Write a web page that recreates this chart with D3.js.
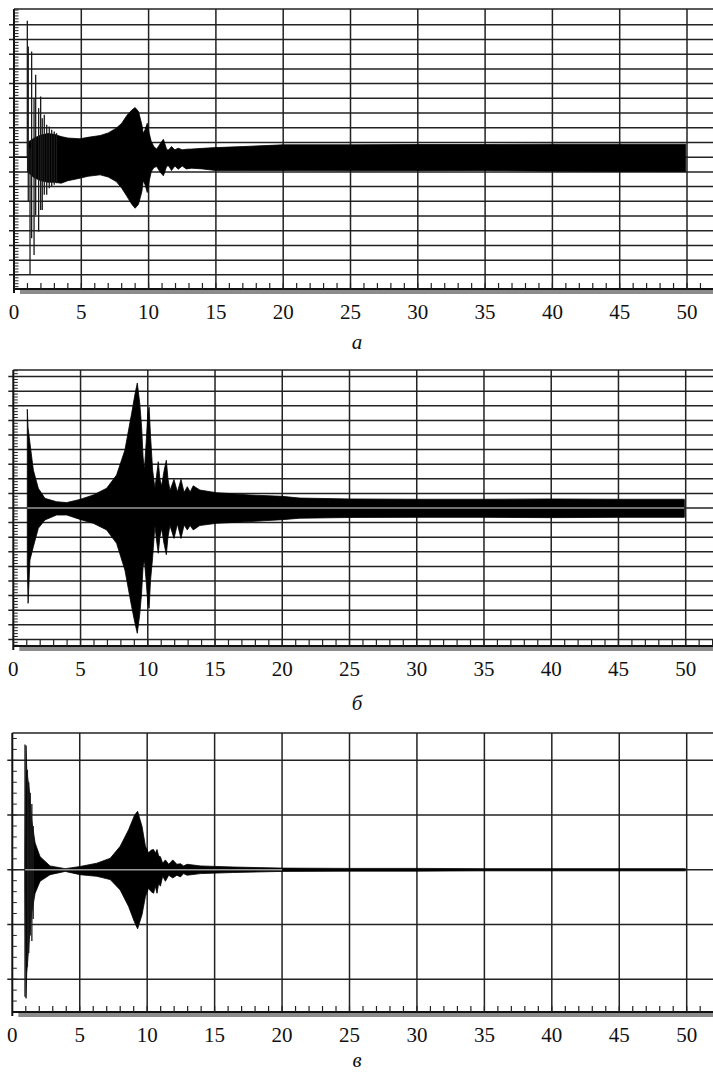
<!DOCTYPE html>
<html>
<head>
<meta charset="utf-8">
<script src="https://cdn.jsdelivr.net/npm/d3@7"></script>
<style>
  body { margin: 0; background: #fff; }
  svg { display: block; }
  text { font-family: "Liberation Serif", Tinos, "Times New Roman", Times, serif; fill: #111; }
</style>
</head>
<body>
<svg id="chart"></svg>
<script>
// time axis labels
var xLabels = [0, 5, 10, 15, 20, 25, 30, 35, 40, 45, 50];

// panel a : envelope of the signal
var aT  = [1.0, 1.5, 2.0, 2.5, 3.0, 3.5, 4.0, 4.9, 5.5, 6.4, 7.0, 7.6, 8.0, 8.4, 8.75, 9.0, 9.25, 9.5, 9.6, 9.75, 9.9, 10.05, 10.2, 10.4, 10.6, 10.85, 11.1, 11.35, 11.5, 11.7, 11.95, 12.2, 12.5, 12.8, 13.2, 14.0, 15.0, 17.0, 20.0, 25.0, 30.0, 35.0, 40.0, 45.0, 49.9];
var aHi = [1.0, 1.3, 1.5, 1.6, 1.55, 1.4, 1.3, 1.25, 1.35, 1.47, 1.65, 1.97, 2.3, 2.85, 3.2, 3.37, 3.1, 2.2, 1.6, 1.9, 2.3, 1.6, 1.06, 0.7, 0.55, 0.9, 1.22, 0.5, 0.5, 0.72, 0.5, 0.61, 0.5, 0.54, 0.55, 0.6, 0.65, 0.72, 0.84, 0.84, 0.86, 0.86, 0.88, 0.88, 0.88];
var aLo = [-1.0, -1.4, -1.6, -1.7, -1.7, -1.77, -1.6, -1.43, -1.3, -1.2, -1.35, -1.66, -2.1, -2.68, -3.2, -3.47, -3.2, -2.34, -1.6, -1.9, -2.4, -1.6, -0.98, -0.7, -0.64, -1.0, -1.27, -0.6, -0.6, -0.91, -0.6, -0.82, -0.6, -0.8, -0.75, -0.8, -0.91, -0.91, -0.91, -0.93, -0.92, -0.9, -0.95, -0.97, -0.98];
// panel a : first thin swings
var aSpikeT  = [0.99, 1.06, 1.19, 1.31, 1.49, 1.61, 1.83, 1.98, 2.1, 2.25, 2.43, 2.62, 2.8, 2.99, 3.16];
var aSpikeHi = [9.27, 7.52, 0.6, 7.18, 4.0, 5.6, 3.33, 4.12, 2.65, 2.88, 2.2, 2.08, 1.86, 1.74, 1.63];
var aSpikeLo = [0, -3.02, -7.96, -5.51, -6.65, -3.93, -5.06, -3.59, -3.59, -2.56, -2.56, -2.11, -2.0, -1.88, -1.77];

// panel b
var bT  = [1.04, 1.1, 1.24, 1.49, 1.86, 2.35, 3.22, 3.97, 4.96, 5.95, 6.94, 7.68, 8.3, 8.8, 9.05, 9.22, 9.4, 9.54, 9.65, 9.75, 9.88, 10.0, 10.1, 10.2, 10.36, 10.53, 10.65, 10.78, 10.9, 11.03, 11.2, 11.38, 11.5, 11.65, 11.95, 12.2, 12.47, 12.7, 12.94, 13.15, 13.38, 13.87, 15.1, 17.6, 20.0, 21.3, 25, 30, 35, 40, 45, 49.9];
var bHi = [6.76, 5.5, 4.43, 2.6, 1.35, 0.66, 0.43, 0.37, 0.59, 0.89, 1.35, 2.26, 3.97, 6.48, 7.8, 8.56, 7.2, 5.57, 3.5, 2.6, 4.5, 6.4, 6.9, 5.0, 2.6, 1.35, 2.2, 3.17, 2.0, 1.5, 2.5, 3.27, 2.0, 1.2, 1.95, 1.1, 1.96, 1.07, 1.46, 1.1, 1.52, 1.23, 1.05, 0.89, 0.8, 0.68, 0.62, 0.6, 0.6, 0.62, 0.6, 0.6];
var bLo = [-4.0, -6.53, -3.56, -2.65, -1.39, -0.82, -0.48, -0.48, -0.78, -1.05, -1.5, -2.42, -4.25, -6.76, -7.9, -8.58, -7.3, -5.84, -4.0, -3.6, -5.0, -6.5, -6.87, -5.0, -3.4, -1.2, -2.2, -3.1, -2.0, -1.4, -2.4, -3.2, -2.0, -1.2, -2.08, -1.1, -2.08, -1.16, -1.5, -1.2, -1.5, -1.2, -1.05, -0.93, -0.8, -0.7, -0.65, -0.64, -0.64, -0.66, -0.64, -0.64];

// panel c
var cT  = [0.94, 1.02, 1.07, 1.26, 1.44, 1.69, 2.06, 2.8, 3.92, 5.03, 6.27, 7.26, 8.0, 8.62, 9.05, 9.29, 9.62, 9.87, 10.1, 10.3, 10.48, 10.6, 10.73, 10.85, 10.98, 11.15, 11.35, 11.6, 11.9, 12.2, 12.47, 12.7, 12.96, 13.95, 16.4, 20, 25, 30, 35, 40, 45, 49.9];
var cHi = [0.3, 2.27, 1.83, 1.46, 0.91, 0.49, 0.24, 0.07, 0.02, 0.06, 0.12, 0.21, 0.43, 0.73, 0.99, 1.07, 0.79, 0.43, 0.31, 0.36, 0.37, 0.3, 0.37, 0.25, 0.24, 0.12, 0.18, 0.1, 0.18, 0.1, 0.11, 0.07, 0.1, 0.07, 0.05, 0.03, 0.025, 0.025, 0.02, 0.02, 0.02, 0.02];
var cLo = [-0.3, -2.35, -1.89, -1.28, -0.79, -0.43, -0.21, -0.09, -0.03, -0.09, -0.12, -0.18, -0.37, -0.67, -0.95, -1.08, -0.82, -0.49, -0.34, -0.4, -0.43, -0.3, -0.43, -0.25, -0.3, -0.12, -0.21, -0.1, -0.15, -0.1, -0.13, -0.07, -0.1, -0.07, -0.05, -0.03, -0.025, -0.025, -0.02, -0.02, -0.02, -0.02];
var cSpikeT  = [0.94, 1.12, 1.22, 1.33, 1.45, 1.55];
var cSpikeHi = [2.29, 1.83, 1.6, 1.41, 1.2, 0.8];
var cSpikeLo = [-2.32, -1.77, -1.52, -1.2, -1.3, -0.9];

var W = 713, H = 1072;
var svg = d3.select('#chart').attr('width', W).attr('height', H);

var panels = [
  { t: aT, hi: aHi, lo: aLo, st: aSpikeT, sh: aSpikeHi, sl: aSpikeLo,
    top: 9, axisY: 289, x0: 14, x50: 687, yMin: -8.96, yMax: 10.07,
    grid: d3.range(-8, 10), caption: 'а', capY: 349, centerTo: 0, lead: true },
  { t: bT, hi: bHi, lo: bLo, st: [], sh: [], sl: [],
    top: 370, axisY: 646, x0: 13.3, x50: 685.7, yMin: -9.45, yMax: 9.45,
    grid: d3.range(-9, 10), caption: 'б', capY: 710, centerTo: 49.9, lead: false },
  { t: cT, hi: cHi, lo: cLo, st: cSpikeT, sh: cSpikeHi, sl: cSpikeLo,
    top: 733, axisY: 1012, x0: 12.3, x50: 686.7, yMin: -2.6, yMax: 2.5,
    grid: [-2, -1, 0, 1, 2], caption: 'в', capY: 1067, centerTo: 20, lead: false }
];

panels.forEach(function(p) {
  var x = d3.scaleLinear().domain([0, 50]).range([p.x0, p.x50]);
  var y = d3.scaleLinear().domain([p.yMin, p.yMax]).range([p.axisY, p.top]);
  var g = svg.append('g');
  var xEnd = W;

  // horizontal grid
  g.selectAll('line.hg').data(p.grid).enter().append('line')
    .attr('x1', p.x0 - 5).attr('x2', xEnd)
    .attr('y1', function(d) { return y(d); }).attr('y2', function(d) { return y(d); })
    .attr('stroke', '#222').attr('stroke-width', 1.5);
  // top border
  g.append('line').attr('x1', p.x0).attr('x2', xEnd).attr('y1', p.top).attr('y2', p.top)
    .attr('stroke', '#222').attr('stroke-width', 1.5);
  // vertical grid
  g.selectAll('line.vg').data(xLabels.slice(1)).enter().append('line')
    .attr('x1', function(d) { return x(d); }).attr('x2', function(d) { return x(d); })
    .attr('y1', p.top).attr('y2', p.axisY + 4)
    .attr('stroke', '#222').attr('stroke-width', 1.5);

  // signal envelope
  var rows = p.t.map(function(t, i) { return { t: t, hi: p.hi[i], lo: p.lo[i] }; });
  var area = d3.area()
    .x(function(d) { return x(d.t); })
    .y0(function(d) { return y(d.lo); })
    .y1(function(d) { return y(d.hi); });
  g.append('path').datum(rows).attr('d', area).attr('fill', '#000')
    .attr('stroke', '#000').attr('stroke-width', 0.8);

  // thin first swings
  var spikes = p.st.map(function(t, i) { return { t: t, hi: p.sh[i], lo: p.sl[i] }; });
  g.selectAll('line.sp').data(spikes).enter().append('line')
    .attr('x1', function(d) { return x(d.t); }).attr('x2', function(d) { return x(d.t); })
    .attr('y1', function(d) { return y(d.hi); }).attr('y2', function(d) { return y(d.lo); })
    .attr('stroke', '#1a1a1a').attr('stroke-width', 1.3);

  // lead-in at zero before the start
  if (p.lead) {
    g.append('line').attr('x1', x(0)).attr('x2', x(p.t[0]))
      .attr('y1', y(0)).attr('y2', y(0)).attr('stroke', '#111').attr('stroke-width', 1.4);
  }
  // grey centre line through the band
  if (p.centerTo > 0) {
    g.append('line').attr('x1', x(p.t[0])).attr('x2', x(p.centerTo))
      .attr('y1', y(0)).attr('y2', y(0)).attr('stroke', '#9a9a9a').attr('stroke-width', 1.3);
  }

  // left axis with ticks
  g.append('line').attr('x1', p.x0).attr('x2', p.x0).attr('y1', p.top).attr('y2', p.axisY + 4)
    .attr('stroke', '#111').attr('stroke-width', 2);
  var minor = d3.range(Math.ceil(p.yMin / 0.2), Math.floor(p.yMax / 0.2) + 1).map(function(k) { return k * 0.2; });
  g.selectAll('line.ym').data(minor).enter().append('line')
    .attr('x1', p.x0).attr('x2', p.x0 + 4.5)
    .attr('y1', function(d) { return y(d); }).attr('y2', function(d) { return y(d); })
    .attr('stroke', '#222').attr('stroke-width', 1);

  // bottom axis: shadow, line, unit ticks
  g.append('rect').attr('x', p.x0 + 6).attr('y', p.axisY + 1).attr('width', xEnd - p.x0 - 6).attr('height', 4)
    .attr('fill', '#8c8c8c');
  g.append('line').attr('x1', p.x0).attr('x2', xEnd).attr('y1', p.axisY).attr('y2', p.axisY)
    .attr('stroke', '#111').attr('stroke-width', 2);
  g.selectAll('line.xm').data(d3.range(1, 53)).enter().append('line')
    .attr('x1', function(d) { return x(d); }).attr('x2', function(d) { return x(d); })
    .attr('y1', p.axisY - 6).attr('y2', p.axisY)
    .attr('stroke', '#222').attr('stroke-width', 1.2);

  // labels
  g.selectAll('text.xl').data(xLabels).enter().append('text')
    .attr('x', function(d) { return x(d); }).attr('y', p.axisY + 30)
    .attr('text-anchor', 'middle')
    .style('font-size', '21px')
    .text(function(d) { return d; });
  g.append('text').attr('x', 357).attr('y', p.capY).attr('text-anchor', 'middle')
    .style('font-style', 'italic').style('font-size', '21px')
    .text(p.caption);
});
</script>
</body>
</html>
